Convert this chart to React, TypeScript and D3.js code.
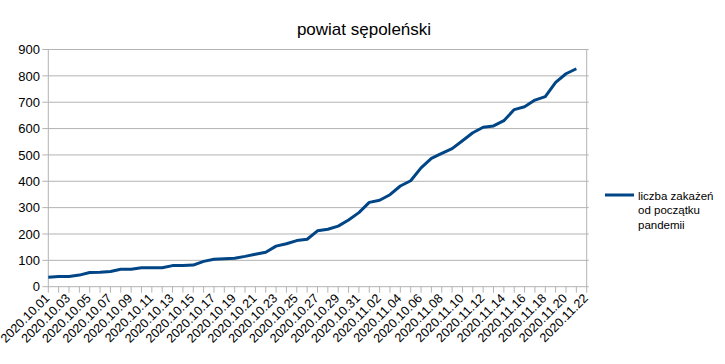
import React, { useMemo } from 'react'
import * as d3 from 'd3'

const title = 'powiat sępoleński'
const seriesName = ['liczba zakażeń', 'od początku', 'pandemii']

// kategorie (w oryginale jest literówka "2020.10.06" zamiast 2020.11.06)
const dates = [
  '2020.10.01', '2020.10.02', '2020.10.03', '2020.10.04', '2020.10.05', '2020.10.06',
  '2020.10.07', '2020.10.08', '2020.10.09', '2020.10.10', '2020.10.11', '2020.10.12',
  '2020.10.13', '2020.10.14', '2020.10.15', '2020.10.16', '2020.10.17', '2020.10.18',
  '2020.10.19', '2020.10.20', '2020.10.21', '2020.10.22', '2020.10.23', '2020.10.24',
  '2020.10.25', '2020.10.26', '2020.10.27', '2020.10.28', '2020.10.29', '2020.10.30',
  '2020.10.31', '2020.11.01', '2020.11.02', '2020.11.03', '2020.11.04', '2020.11.05',
  '2020.10.06', '2020.11.07', '2020.11.08', '2020.11.09', '2020.11.10', '2020.11.11',
  '2020.11.12', '2020.11.13', '2020.11.14', '2020.11.15', '2020.11.16', '2020.11.17',
  '2020.11.18', '2020.11.19', '2020.11.20', '2020.11.21', '2020.11.22'
]

// liczba zakażeń od początku pandemii
const cases: (number | null)[] = [
  36, 39, 39, 44, 54, 55, 58, 66, 66, 72, 72, 72, 80, 80, 82, 96, 104, 106,
  108, 115, 123, 131, 154, 163, 175, 180, 212, 218, 230, 253, 281, 320, 328, 349,
  382, 402, 451, 487, 506, 524, 554, 584, 605, 610, 630, 672, 683, 708, 721, 775,
  808, 827, null
]

const yTicks = [0, 100, 200, 300, 400, 500, 600, 700, 800, 900]

const W = 725
const H = 364
const left = 48.3
const right = 586.7
const top = 49.5
const bottom = 286.7
const gridColor = '#b3b3b3'
const lineColor = '#004586'
const font = '"Liberation Sans", Arial, sans-serif'

export default function App() {
  const x = useMemo(() => d3.scalePoint<string>().domain(d3.range(dates.length).map(String)).range([left, right]), [])
  const y = useMemo(() => d3.scaleLinear().domain([0, 900]).range([bottom, top]), [])

  const line = d3.line<number | null>()
    .defined(d => d != null)
    .x((_, i) => x(String(i)) as number)
    .y(d => y(d as number))

  return (
    <svg width={W} height={H} style={{ position: 'absolute', left: 0, top: 0 }} fontFamily={font}>
      <rect width={W} height={H} fill="#fff" />
      <text x={364} y={35} textAnchor="middle" fontSize={17}>{title}</text>

      {/* siatka i oś Y */}
      {yTicks.map(t => (
        <g key={t}>
          <line x1={left - 6} x2={right + 2} y1={y(t)} y2={y(t)} stroke={gridColor} strokeWidth={1} />
          <text x={40} y={y(t)} dy="0.36em" textAnchor="end" fontSize={13} fill="#000">{t}</text>
        </g>
      ))}
      <line x1={left} x2={left} y1={top} y2={bottom} stroke={gridColor} />
      <line x1={right} x2={right} y1={top} y2={bottom} stroke={gridColor} />

      {/* oś X */}
      {dates.map((d, i) => {
        const px = x(String(i)) as number
        return (
          <g key={i}>
            <line x1={px} x2={px} y1={bottom} y2={bottom + 6} stroke={gridColor} />
            {i % 2 === 0 && (
              <text transform={`translate(${px + 2},${299}) rotate(-45)`} textAnchor="end" fontSize={12.6} fill="#000">{d}</text>
            )}
          </g>
        )
      })}

      <path d={line(cases) || ''} fill="none" stroke={lineColor} strokeWidth={3} strokeLinejoin="round" />

      {/* legenda */}
      <line x1={605} x2={634} y1={195} y2={195} stroke={lineColor} strokeWidth={3} />
      {seriesName.map((s, i) => (
        <text key={s} x={638} y={200 + i * 14.3} fontSize={11.5} fill="#000">{s}</text>
      ))}
    </svg>
  )
}
